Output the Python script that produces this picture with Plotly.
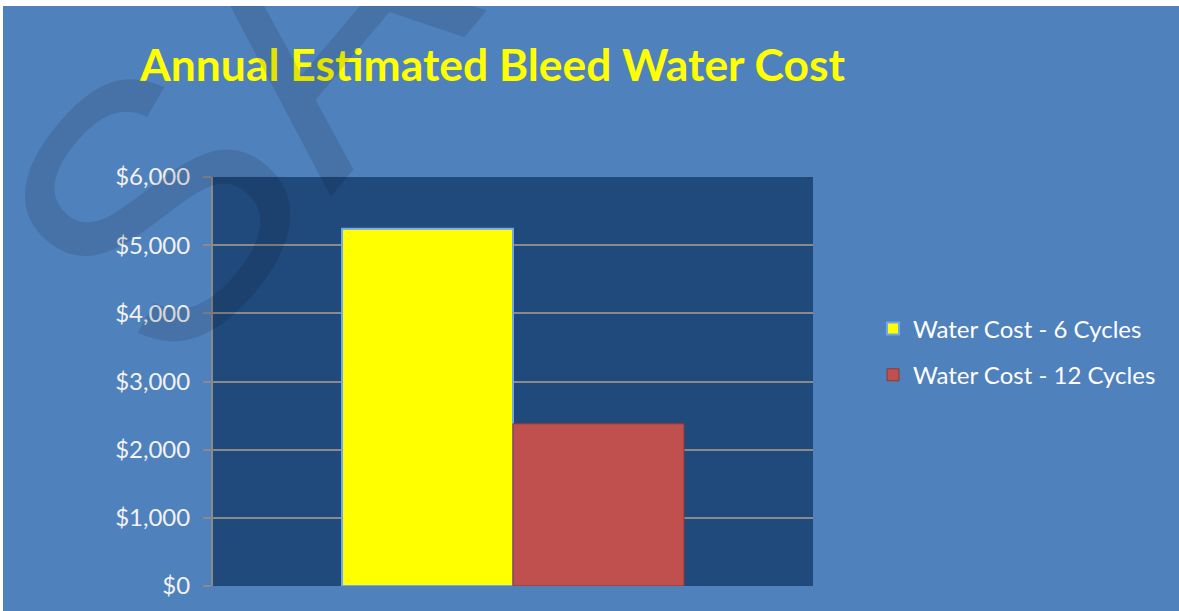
import plotly.graph_objects as go

categories = ["Annual"]
series_names = ["Water Cost - 6 Cycles", "Water Cost - 12 Cycles"]
cost_6_cycles = [5240]
cost_12_cycles = [2380]
tick_values = [0, 1000, 2000, 3000, 4000, 5000, 6000]
tick_labels = ["$0", "$1,000", "$2,000", "$3,000", "$4,000", "$5,000", "$6,000"]

W, H = 1176, 605
L, R, T, B = 210, 366, 171, 25
plot_w, plot_h = W - L - R, H - T - B

fig = go.Figure()
fig.add_trace(go.Bar(
    x=categories, y=cost_6_cycles, name=series_names[0], legendgroup="a",
    marker=dict(color="#FFFF00", line=dict(color="#6FA8F0", width=2)),
))
fig.add_trace(go.Bar(
    x=categories, y=cost_12_cycles, name=series_names[1], legendgroup="b",
    marker=dict(color="#C0504D", line=dict(color="#8C3836", width=1)),
))

fig.update_layout(
    width=W, height=H,
    paper_bgcolor="#4F81BD",
    plot_bgcolor="#20497C",
    barmode="group",
    bargap=0.43,
    margin=dict(l=L, r=R, t=T, b=B),
    title=dict(
        text="<b>Annual Estimated Bleed Water Cost</b>",
        font=dict(family="Lato", size=44.4, color="#FFFF00"),
        x=137 / W, xanchor="left", y=1 - 59 / H, yanchor="middle",
    ),
    font=dict(family="Lato", color="white", size=24),
    legend=dict(
        x=(870 - L) / plot_w, y=(plot_h - (346 - T)) / plot_h,
        yanchor="middle", xanchor="left",
        font=dict(family="Lato", size=24, color="white"),
        bgcolor="rgba(0,0,0,0)",
        tracegroupgap=12,
        traceorder="grouped",
    ),
    showlegend=True,
)
fig.update_xaxes(showticklabels=False, showgrid=False, zeroline=False, showline=False)
fig.update_yaxes(
    range=[0, 6000], tickvals=tick_values, ticktext=tick_labels,
    showgrid=True, gridcolor="#8A8A8A", gridwidth=2,
    showline=True, linecolor="#8A8A8A", linewidth=2,
    ticks="outside", ticklen=8, tickcolor="#8A8A8A", tickwidth=2,
    ticklabelstandoff=8,
    zeroline=False, tickfont=dict(family="Lato", size=24, color="#F2F2F2"),
)

# faint diagonal watermark
fig.add_annotation(
    text="SAMPLE", xref="paper", yref="paper",
    x=(550 - L) / plot_w, y=(plot_h - (-272 - T)) / plot_h,
    xanchor="center", yanchor="middle",
    showarrow=False, textangle=-50,
    font=dict(family="Liberation Sans", size=366, color="rgba(0,0,0,0.11)"),
)

fig.write_html("out.html", post_script="document.body.style.margin='6px 0 0 3px';")
